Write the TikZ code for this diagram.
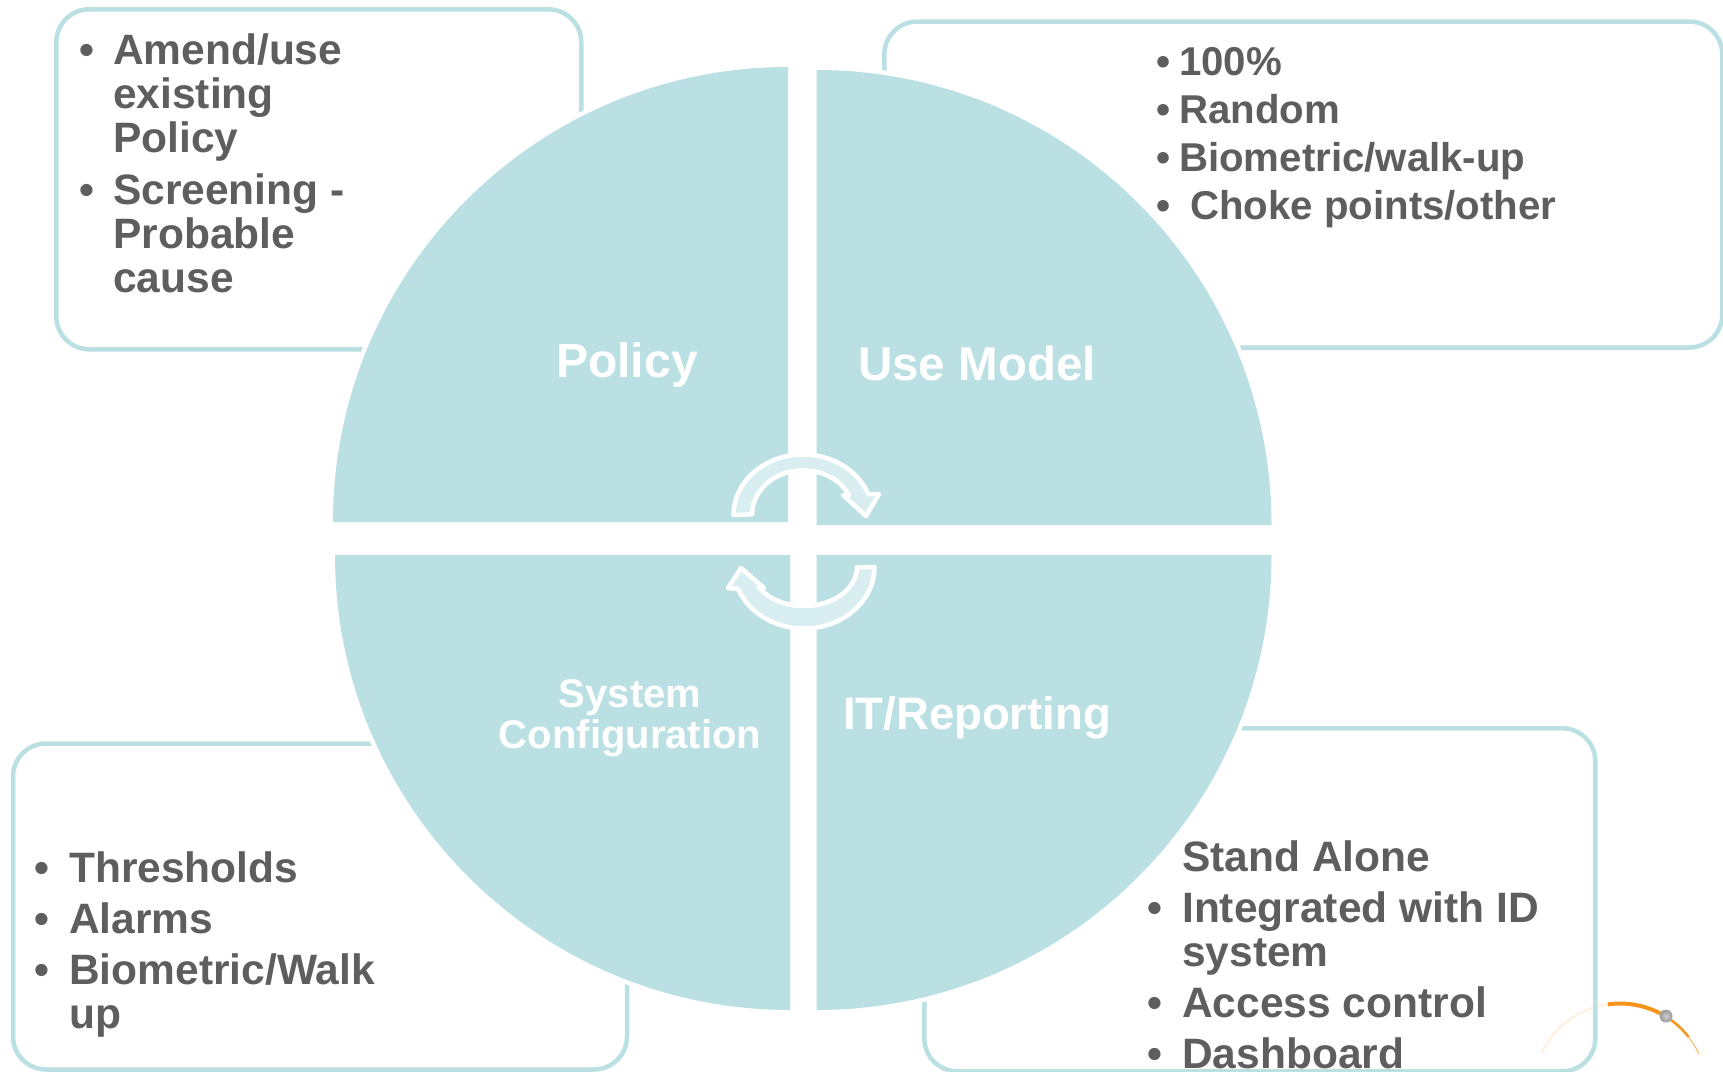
\documentclass[tikz,border=0pt]{standalone}
\usepackage{fontspec}
\setmainfont{Liberation Sans}
\definecolor{teal1}{HTML}{BBE0E3}
\definecolor{teal2}{HTML}{D9EEF0}
\definecolor{ink}{HTML}{5E5E5E}
\definecolor{orng}{HTML}{F7941D}
\newcommand{\blt}[1]{\makebox[#1][l]{•}}
\tikzset{
  panel/.style={draw=teal1,line width=4.5pt,rounded corners=33pt,fill=white,inner sep=0pt,outer sep=0pt,anchor=north west},
  quad/.style={fill=teal1,preaction={draw=white,line width=9pt}},
  turn/.style={fill=teal2,draw=white,line width=4.5pt,line join=round},
  listtext/.style={text=ink,font=\fontsize{42.5}{44}\bfseries\selectfont,inner sep=0pt,anchor=base west},
  labeltext/.style={text=white,inner sep=0pt,align=center,font=\bfseries}
}
\begin{document}
\begin{tikzpicture}[x=1pt,y=1pt,yscale=-1]
\useasboundingbox (0,0) rectangle (1723,1071);
\clip (0,0) rectangle (1723,1071);
% orange arc
\draw[orng!12,line width=2.5pt] (1620,1090.5) ++(205:87) arc[start angle=205,end angle=262,radius=87];
\draw[orng,line width=4pt] (1620,1090.5) ++(262:87) arc[start angle=262,end angle=302,radius=87];
\draw[orng,line width=2.5pt] (1620,1090.5) ++(302:87) arc[start angle=302,end angle=322,radius=87];
\draw[orng!60,line width=1.2pt] (1620,1090.5) ++(322:87) arc[start angle=322,end angle=335,radius=87];
\node[circle,minimum size=12pt,inner sep=0pt,draw=gray!70,line width=1pt,inner color=gray!35,outer color=gray!80] (ball) at (1666,1016) {};
% panels
\node[panel,minimum width=525pt,minimum height=340pt] (boxTL) at (56.3,9.3) {};
\node[panel,minimum width=838pt,minimum height=326pt] (boxTR) at (884.3,21.5) {};
\node[panel,minimum width=614pt,minimum height=326pt] (boxBL) at (13,743.5) {};
\node[panel,minimum width=671pt,minimum height=343pt,fill=none] (boxBR) at (924.3,728.3) {};
% quadrants
\path[quad] (788,522) -- (333,522) arc[start angle=180,end angle=270,radius=455] -- cycle;
\path[quad] (816.5,525) -- (816.5,70) arc[start angle=270,end angle=360,radius=455] -- cycle;
\path[quad] (816.5,555) -- (1271.5,555) arc[start angle=0,end angle=90,radius=455] -- cycle;
\path[quad] (790,555) -- (790,1010) arc[start angle=90,end angle=180,radius=455] -- cycle;
% turn arrows
\draw[turn] (733.5,515) arc[start angle=180,end angle=340,x radius=69.5,y radius=60.5]
  -- (879,494) -- (866,516) -- (843,495) -- (849,495)
  arc[start angle=334,end angle=180,x radius=51,y radius=44] -- cycle;
\draw[turn] (874.5,567) arc[start angle=0,end angle=159,x radius=70.5,y radius=61.5]
  -- (728,588) -- (741,568) -- (764,588) -- (758.6,587.1)
  arc[start angle=149,end angle=0,x radius=53,y radius=39] -- cycle;
% labels
\node[labeltext,font=\fontsize{48}{50}\bfseries\selectfont] (lPolicy) at (627,365) {Policy};
\node[labeltext,font=\fontsize{47.5}{50}\bfseries\selectfont] (lUse) at (977,364) {Use Model};
\node[labeltext,font=\fontsize{40}{41}\bfseries\selectfont] (lSys) at (630,718) {System\\Configuration};
\node[labeltext,font=\fontsize{45.5}{48}\bfseries\selectfont] (lIT) at (977,718) {IT/Reporting};
% lists
\node[listtext] (tTL) at (79,64) {\begin{tabular}[t]{@{}l@{}l@{}}
\blt{34pt}&Amend/use\\&existing\\&Policy\\[8pt]
\blt{34pt}&Screening -\\&Probable\\&cause
\end{tabular}};
\node[listtext,font=\fontsize{40.2}{44}\bfseries\selectfont] (tTR) at (1156,75) {\begin{tabular}[t]{@{}l@{}l@{}}
\blt{23pt}&100\%\\[4pt]
\blt{23pt}&Random\\[4pt]
\blt{23pt}&Biometric/walk-up\\[4pt]
\blt{23pt}&\hspace{11pt}Choke points/other
\end{tabular}};
\node[listtext] (tBL) at (34,882) {\begin{tabular}[t]{@{}l@{}l@{}}
\blt{35pt}&Thresholds\\[7pt]
\blt{35pt}&Alarms\\[7pt]
\blt{35pt}&Biometric/Walk\\&up
\end{tabular}};
\node[listtext] (tBR) at (1147,871.5) {\begin{tabular}[t]{@{}l@{}l@{}}
\makebox[35pt]{}&Stand Alone\\[7pt]
\blt{35pt}&Integrated with ID\\&system\\[7pt]
\blt{35pt}&Access control\\[7pt]
\blt{35pt}&Dashboard
\end{tabular}};
\end{tikzpicture}
\end{document}
